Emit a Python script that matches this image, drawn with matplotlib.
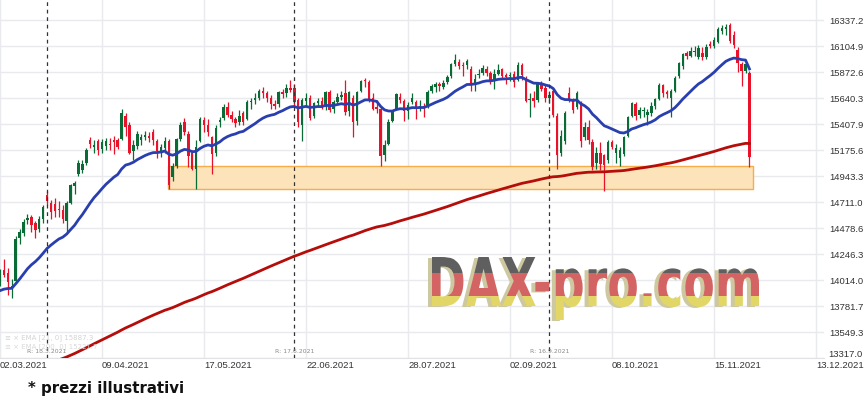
import numpy as np
import matplotlib
matplotlib.use('Agg')
import matplotlib.pyplot as plt
from matplotlib.textpath import TextPath
from matplotlib.patches import PathPatch, Rectangle
from matplotlib.font_manager import FontProperties
from matplotlib.transforms import Affine2D

# daily candles, 02.03.2021 -> 26.11.2021 (one entry per trading day)
opens = [14000, 14100, 14070, 13930, 14000, 14390, 14430, 14545, 14570, 14520,
         14470, 14560, 14770, 14700, 14690, 14650, 14640, 14540, 14700, 14850,
         14960, 14990, 15060, 15260, 15200, 15250, 15180, 15210, 15230, 15260,
         15260, 15270, 15480, 15400, 15160, 15210, 15260, 15290, 15300, 15330,
         15250, 15160, 15190, 15250, 14930, 15030, 15270, 15420, 15320, 15150,
         15000, 15250, 15440, 15400, 15290, 15150, 15420, 15460, 15560, 15490,
         15450, 15420, 15500, 15450, 15600, 15620, 15640, 15700, 15680, 15640,
         15580, 15580, 15690, 15680, 15730, 15730, 15620, 15400, 15610, 15640,
         15480, 15590, 15610, 15560, 15690, 15540, 15600, 15650, 15680, 15520,
         15640, 15430, 15700, 15800, 15780, 15640, 15560, 15540, 15130, 15230,
         15430, 15540, 15650, 15610, 15520, 15600, 15600, 15560, 15570, 15560,
         15700, 15740, 15760, 15740, 15780, 15830, 15940, 15960, 15930, 15930,
         15900, 15770, 15840, 15860, 15900, 15860, 15790, 15850, 15900, 15840,
         15830, 15850, 15800, 15930, 15810, 15620, 15640, 15620, 15750, 15730,
         15640, 15700, 15480, 15150, 15250, 15680, 15610, 15560, 15600, 15290,
         15380, 15240, 15060, 15150, 15130, 15080, 15240, 15150, 15100, 15140,
         15300, 15480, 15580, 15490, 15520, 15490, 15500, 15570, 15630, 15750,
         15690, 15640, 15700, 15830, 15920, 16040, 16010, 16050, 16000, 16040,
         16000, 16120, 16100, 16140, 16240, 16250, 16290, 16200, 16070, 15940,
         15880, 15860]
highs = [14110, 14197, 14120, 14020, 14400, 14470, 14560, 14600, 14590, 14540,
         14580, 14680, 14805, 14730, 14740, 14720, 14680, 14720, 14870, 14900,
         15080, 15080, 15190, 15290, 15260, 15270, 15270, 15280, 15280, 15300,
         15280, 15540, 15500, 15420, 15260, 15340, 15320, 15340, 15330, 15360,
         15270, 15230, 15290, 15270, 15060, 15280, 15420, 15460, 15340, 15170,
         15260, 15470, 15470, 15450, 15300, 15400, 15470, 15580, 15600, 15520,
         15470, 15530, 15520, 15620, 15640, 15680, 15720, 15740, 15700, 15660,
         15620, 15700, 15720, 15760, 15800, 15760, 15640, 15640, 15680, 15660,
         15600, 15640, 15650, 15700, 15710, 15620, 15680, 15700, 15800, 15700,
         15660, 15700, 15800, 15820, 15800, 15680, 15620, 15560, 15260, 15450,
         15530, 15680, 15680, 15630, 15600, 15680, 15620, 15620, 15590, 15710,
         15760, 15780, 15780, 15800, 15840, 15950, 16030, 15990, 15960, 15990,
         15920, 15850, 15900, 15930, 15920, 15880, 15900, 15940, 15910, 15860,
         15870, 15880, 15960, 15950, 15830, 15680, 15700, 15770, 15790, 15760,
         15700, 15720, 15500, 15350, 15520, 15735, 15640, 15700, 15610, 15420,
         15440, 15270, 15200, 15240, 15140, 15260, 15260, 15230, 15200, 15300,
         15480, 15600, 15600, 15560, 15560, 15540, 15600, 15640, 15770, 15760,
         15710, 15720, 15830, 15960, 16040, 16060, 16090, 16100, 16110, 16090,
         16120, 16150, 16180, 16270, 16290, 16300, 16310, 16240, 16090, 15960,
         15960, 15880]
lows = [13960, 14036, 13880, 13850, 13990, 14330, 14400, 14510, 14440, 14390,
        14440, 14520, 14680, 14560, 14570, 14570, 14520, 14440, 14690, 14780,
        14940, 14970, 15040, 15190, 15150, 15130, 15150, 15170, 15170, 15140,
        15180, 15260, 15300, 15140, 15080, 15180, 15220, 15260, 15240, 15220,
        15100, 15110, 15150, 14820, 14900, 15010, 15250, 15310, 15020, 14990,
        14824, 15240, 15330, 15300, 14960, 15120, 15380, 15440, 15470, 15420,
        15380, 15400, 15400, 15440, 15540, 15580, 15620, 15640, 15600, 15540,
        15540, 15560, 15640, 15650, 15690, 15560, 15380, 15250, 15560, 15440,
        15460, 15560, 15540, 15530, 15510, 15500, 15580, 15620, 15490, 15480,
        15290, 15400, 15690, 15740, 15600, 15530, 15500, 15030, 15074, 15220,
        15420, 15530, 15590, 15430, 15450, 15580, 15450, 15520, 15470, 15550,
        15680, 15690, 15700, 15720, 15760, 15820, 15920, 15900, 15830, 15900,
        15700, 15700, 15820, 15840, 15830, 15760, 15720, 15840, 15810, 15760,
        15790, 15740, 15790, 15800, 15600, 15470, 15560, 15600, 15700, 15600,
        15590, 15470, 15000, 15120, 15230, 15600, 15500, 15540, 15200, 15260,
        15230, 14990, 15000, 14990, 14805, 15060, 15180, 15060, 15030, 15120,
        15290, 15470, 15440, 15460, 15470, 15400, 15480, 15540, 15620, 15650,
        15640, 15470, 15690, 15820, 15900, 15990, 16000, 16010, 15990, 15980,
        15990, 16080, 16080, 16130, 16210, 16200, 16130, 16080, 15870, 15745,
        15860, 15020]
closes = [14080, 14060, 13990, 13960, 14380, 14440, 14528, 14569, 14502, 14461,
          14557, 14660, 14720, 14621, 14630, 14640, 14560, 14700, 14860, 14880,
          15060, 15050, 15170, 15230, 15220, 15170, 15240, 15250, 15220, 15240,
          15200, 15500, 15380, 15150, 15220, 15320, 15290, 15310, 15280, 15260,
          15160, 15200, 15250, 14860, 15030, 15270, 15400, 15330, 15120, 15000,
          15200, 15450, 15400, 15330, 15140, 15370, 15440, 15560, 15490, 15450,
          15410, 15480, 15420, 15600, 15610, 15640, 15700, 15680, 15640, 15580,
          15570, 15690, 15670, 15730, 15710, 15600, 15420, 15620, 15636, 15460,
          15589, 15608, 15554, 15691, 15531, 15603, 15650, 15661, 15511, 15693,
          15420, 15688, 15790, 15789, 15629, 15543, 15540, 15120, 15216, 15422,
          15514, 15669, 15618, 15519, 15571, 15640, 15544, 15568, 15555, 15692,
          15745, 15761, 15745, 15770, 15826, 15937, 15977, 15925, 15922, 15965,
          15765, 15808, 15852, 15905, 15860, 15793, 15852, 15888, 15835, 15824,
          15840, 15781, 15932, 15843, 15610, 15623, 15609, 15760, 15722, 15640,
          15660, 15490, 15132, 15300, 15506, 15620, 15532, 15680, 15249, 15380,
          15261, 15020, 15150, 15050, 15040, 15240, 15200, 15190, 15170, 15290,
          15470, 15590, 15480, 15530, 15530, 15510, 15570, 15630, 15757, 15680,
          15670, 15700, 15820, 15950, 16030, 16010, 16060, 16060, 16080, 16000,
          16090, 16100, 16160, 16255, 16260, 16270, 16150, 16110, 15950, 15880,
          15940, 15110]

tick_bars = [0, 26, 52, 78, 104, 130, 156, 182, 208]
tick_labels = ['02.03.2021', '09.04.2021', '17.05.2021', '22.06.2021', '28.07.2021',
               '02.09.2021', '08.10.2021', '15.11.2021', '13.12.2021']
price_ticks = [16337.2, 16104.9, 15872.6, 15640.3, 15407.9, 15175.6, 14943.3,
               14711.0, 14478.6, 14246.3, 14014.0, 13781.7, 13549.3, 13317.0]
roll_bars = [12, 75, 140]
roll_labels = ['R: 18.3.2021', 'R: 17.6.2021', 'R: 16.9.2021']
zone_x = (42.9, 191.9)
zone_y = (14824, 15030)
ema_fast_seed = 13900
ema_slow_seed = 13100


def ema(vals, n, seed):
    a = 2.0 / (n + 1)
    e = seed
    out = []
    for v in vals:
        e = e + a * (v - e)
        out.append(e)
    return np.array(out)


W, H = 866, 402
fig = plt.figure(figsize=(W / 100, H / 100), dpi=100)
ax_bottom = 358.7
ax = fig.add_axes([0, 1 - ax_bottom / H, 824 / W, ax_bottom / H])
ax.set_xlim(0, 210)
ax.set_ylim(13317.0, 16337.2 + 20.7 * 8.935)

x = np.arange(len(closes))
o = np.array(opens); c = np.array(closes); hi = np.array(highs); lo = np.array(lows)
up = c >= o
green, red = '#0b6b37', '#e8132b'
cols = np.where(up, green, red)

ax.set_xticks(tick_bars)
ax.set_xticklabels(tick_labels, ha='left', fontsize=6.8, color='#333333',
                   family='Liberation Sans')
# every price label but the lowest sits on its gridline; the lowest one is
# written separately, lifted above the date row
ax.set_yticks(price_ticks)
ax.set_yticklabels(['%.1f' % p for p in price_ticks[:-1]] + [''], fontsize=6.8,
                   color='#333333', family='Liberation Sans')
ax.text(1 + 4 / 824, price_ticks[-1], '%.1f' % price_ticks[-1], transform=ax.get_yaxis_transform(),
        ha='left', va='bottom', fontsize=6.8, color='#333333', family='Liberation Sans')
ax.yaxis.tick_right()
ax.tick_params(length=0, pad=2)
ax.tick_params(axis='y', pad=4)
ax.grid(True, color='#e8eaee', lw=1)
ax.set_axisbelow(True)
for s in ['top', 'left', 'right']:
    ax.spines[s].set_visible(False)
ax.spines['bottom'].set_color('#e0e2e6')

ax.add_patch(Rectangle((zone_x[0], zone_y[0]), zone_x[1] - zone_x[0], zone_y[1] - zone_y[0],
                       facecolor='#fde3b9', edgecolor='#f6ad4c', lw=1, zorder=1))

ax.vlines(x, lo, hi, colors=cols, lw=0.9, zorder=3)
ax.bar(x, np.maximum(np.abs(c - o), 6), bottom=np.minimum(o, c), width=0.62,
       color=cols, zorder=3, linewidth=0)

ax.plot(x, ema(closes, 200, ema_slow_seed), color='#b50d0a', lw=2, zorder=4)
ax.plot(x, ema(closes, 21, ema_fast_seed), color='#2a3fae', lw=2, zorder=4)

for b, lab in zip(roll_bars, roll_labels):
    ax.axvline(b, color='#333333', lw=0.9, ls=(0, (3, 3)), zorder=5)
    ax.text(b, 13317.0 + 40, lab, ha='center', va='bottom', fontsize=4.4,
            color='#8a8a8a', zorder=6)

# overlay in pixel coordinates
ov = fig.add_axes([0, 0, 1, 1], zorder=10)
ov.set_xlim(0, W); ov.set_ylim(H, 0)
ov.axis('off')
ov.patch.set_alpha(0)

ov.text(5, 338, '\u2261 \u00d7 EMA [21, 0] 15887.3', fontsize=5.0, color='#d4d4d4', va='center')
ov.text(5, 346.5, '\u2261 \u00d7 EMA [200, 0] 15221.7', fontsize=5.0, color='#dadada', va='center')

ov.text(28, 389, '* prezzi illustrativi', fontsize=10.8, fontweight='bold',
        color='#111111', va='center', ha='left')

# watermark
fp = FontProperties(family='DejaVu Sans', weight='bold')
tp = TextPath((0, 0), 'DAX-pro.com', size=1, prop=fp)
bb = tp.get_extents()
cap = TextPath((0, 0), 'D', size=1, prop=fp).get_extents().height
tr = Affine2D().translate(-bb.x0, 0).scale(327 / bb.width, -49 / cap).translate(432, 307)
wpath = tr.transform_path(tp)
shadow = Affine2D().translate(-4, 1).transform_path(wpath)
ov.add_patch(PathPatch(shadow, facecolor='#cdc89f', edgecolor='none', zorder=1))
clip = PathPatch(wpath, facecolor='none', edgecolor='none', transform=ov.transData, zorder=1)
ov.add_patch(clip)
rows = np.arange(250, 322)
stripe = np.zeros((len(rows), 1, 3))
stripe[rows < 274] = np.array([95, 95, 95]) / 255
stripe[(rows >= 274) & (rows < 297)] = np.array([212, 100, 100]) / 255
stripe[rows >= 297] = np.array([226, 214, 102]) / 255
im = ov.imshow(stripe, extent=(425, 765, 322, 250), aspect='auto', origin='upper',
               interpolation='nearest', zorder=2)
im.set_clip_path(clip)
ov.set_xlim(0, W); ov.set_ylim(H, 0)

fig.savefig('out.png', dpi=100)
